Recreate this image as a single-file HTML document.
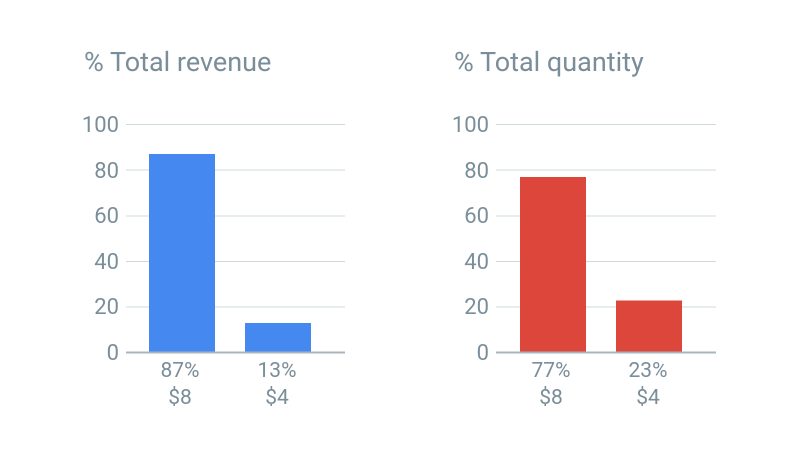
<!DOCTYPE html>
<html><head><style>
html,body{margin:0;padding:0;background:#fff;}
</style></head><body>
<svg width="800" height="457" xmlns="http://www.w3.org/2000/svg" font-family="Roboto, 'Liberation Sans', sans-serif" fill="#7a8e9a">
<g font-size="27"><text x="84" y="71">% Total revenue</text><text x="454" y="71">% Total quantity</text></g>
<g stroke="#cfd8dc" stroke-width="1">
<line x1="126" x2="345" y1="124.5" y2="124.5"/><line x1="126" x2="345" y1="170" y2="170"/><line x1="126" x2="345" y1="216" y2="216"/><line x1="126" x2="345" y1="261.5" y2="261.5"/><line x1="126" x2="345" y1="307" y2="307"/>
<line x1="496" x2="716" y1="124.5" y2="124.5"/><line x1="496" x2="716" y1="170" y2="170"/><line x1="496" x2="716" y1="216" y2="216"/><line x1="496" x2="716" y1="261.5" y2="261.5"/><line x1="496" x2="716" y1="307" y2="307"/>
</g>
<rect x="149" y="154" width="66" height="199" fill="#4589f0"/>
<rect x="245" y="323" width="66" height="30" fill="#4589f0"/>
<rect x="520" y="177" width="66" height="176" fill="#dc463b"/>
<rect x="616" y="300.5" width="66" height="52.5" fill="#dc463b"/>
<line x1="126" x2="345" y1="352.5" y2="352.5" stroke="#a9b6bd" stroke-width="2"/>
<line x1="496" x2="716" y1="352.5" y2="352.5" stroke="#a9b6bd" stroke-width="2"/>
<g font-size="22" text-anchor="end">
<text x="119" y="132">100</text><text x="119" y="178">80</text><text x="119" y="223">60</text><text x="119" y="269">40</text><text x="119" y="314">20</text><text x="119" y="360">0</text>
<text x="489" y="132">100</text><text x="489" y="178">80</text><text x="489" y="223">60</text><text x="489" y="269">40</text><text x="489" y="314">20</text><text x="489" y="360">0</text>
</g>
<g font-size="21" text-anchor="middle">
<text x="180" y="377">87%</text><text x="180" y="404">$8</text>
<text x="277" y="377">13%</text><text x="277" y="404">$4</text>
<text x="551" y="377">77%</text><text x="551" y="404">$8</text>
<text x="648" y="377">23%</text><text x="648" y="404">$4</text>
</g>
</svg>
</body></html>
